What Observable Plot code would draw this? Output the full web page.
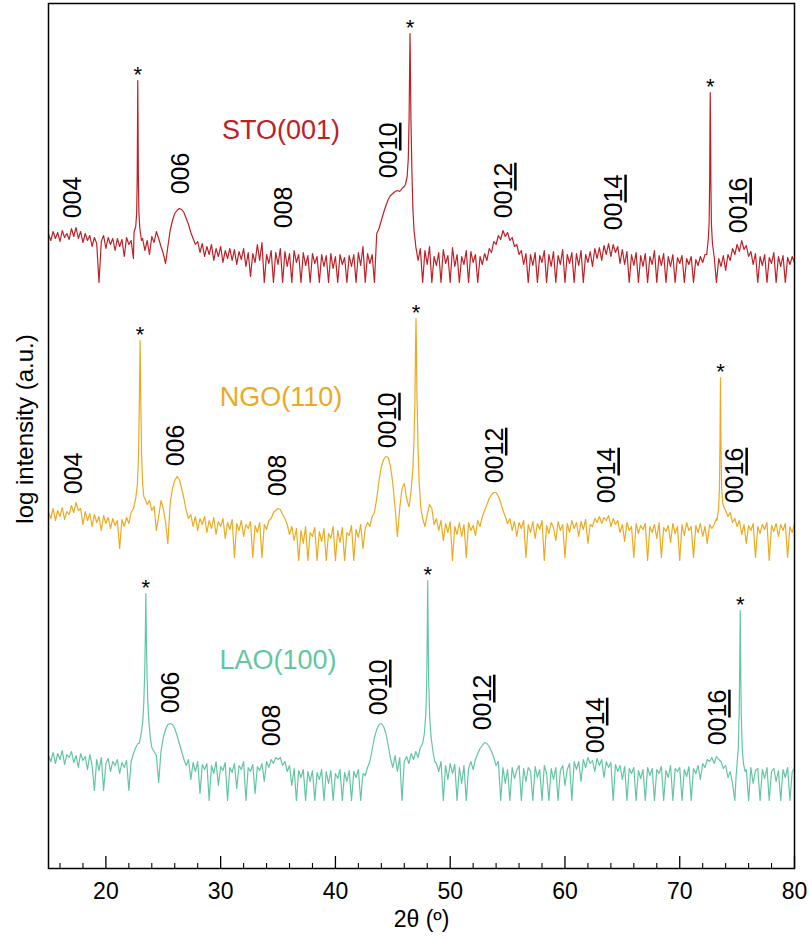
<!DOCTYPE html>
<html><head><meta charset="utf-8">
<script src="https://cdn.jsdelivr.net/npm/d3@7"></script>
<script src="https://cdn.jsdelivr.net/npm/@observablehq/plot@0.6"></script>
<style>body{margin:0;background:#fff;} #chart svg{display:block;}</style>
</head><body><div id="chart"></div>
<script>
// scan grid: 2θ from 15° to 80° every 0.2°
const theta0 = 15, thetaStep = 0.2;

// log intensity (a.u.), relative to each trace's own offset
const sto = [
 34,28,37,30,36,27,38,31,35,29,
 40,32,41,30,37,26,35,28,33,22,
 31,25,-14,27,33,20,31,24,30,18,
 30,22,29,12,31,24,28,10,36,40,
 30,30,18,28,14,32,26,37,30,22,
 15,5,22,38,48,55,58,60,59,56,
 50,44,36,30,24,27,16,25,12,22,
 14,24,8,20,12,22,6,18,10,20,
 8,19,4,17,9,20,2,16,-8,15,
 6,24,8,26,-14,14,5,18,-14,16,
 4,20,-14,17,2,15,-14,18,6,14,
 -14,16,3,13,-14,15,5,12,-14,14,
 2,13,-14,15,0,12,-14,14,4,11,
 -14,13,2,14,-14,16,3,22,-14,15,
 5,14,-14,35,40,48,56,63,69,73,
 75,77,78,77,80,82,90,150,200,40,
 22,8,20,-14,18,4,22,-14,12,3,
 16,-14,19,5,13,-14,21,2,14,-14,
 12,4,18,-14,17,6,14,-14,12,4,
 15,8,20,16,27,24,33,29,38,32,
 36,28,31,22,24,14,18,4,15,-14,
 14,3,16,-14,13,6,18,-14,14,2,
 17,-14,13,4,19,-14,14,5,16,-14,
 15,3,18,-14,14,6,17,2,20,10,
 21,8,23,14,25,12,24,16,22,5,
 19,4,17,-14,14,3,16,-14,13,2,
 15,-14,12,4,18,-14,13,3,15,-14,
 12,2,14,-14,11,5,13,-14,10,4,
 12,-14,9,3,12,6,14,20,100,60,
 12,-14,10,2,13,-2,14,8,20,14,
 24,17,28,19,23,12,17,4,15,-14,
 12,3,14,-14,11,5,16,-14,12,2,
 13,-14,11,4,12,6
];
const ngo = [
 26,20,30,18,28,22,31,19,27,24,
 33,26,36,28,30,14,27,18,25,12,
 24,16,22,8,23,15,21,10,20,13,
 18,-10,19,12,21,15,26,30,40,80,
 140,60,40,34,38,28,32,8,22,38,
 30,16,-5,35,50,58,62,59,50,40,
 28,20,24,12,22,8,20,14,22,6,
 18,10,21,4,17,12,20,0,16,9,
 19,-19,15,8,18,2,14,10,17,-19,
 13,6,16,-19,14,9,18,20,26,28,
 30,29,24,20,14,4,12,-2,10,-22,
 8,-5,12,-22,6,2,11,-22,7,-3,
 10,-22,5,0,12,-22,8,-4,11,-22,
 6,3,13,-22,9,1,14,-10,10,16,
 12,22,26,40,58,72,79,82,81,72,
 55,30,2,30,50,55,40,32,48,70,
 220,150,60,20,12,24,34,30,14,20,
 8,18,-2,15,6,17,-22,12,4,16,
 2,14,-19,16,8,13,3,18,12,22,
 28,34,40,44,46,46,42,36,28,22,
 15,20,8,17,2,16,10,18,-19,14,
 6,17,0,15,9,18,-22,13,5,16,
 11,-2,17,8,14,-19,15,6,18,10,
 16,2,17,9,19,-5,14,12,20,16,
 22,15,21,18,23,12,20,14,18,6,
 14,-3,16,8,12,-19,15,5,13,9,
 15,-22,12,6,14,0,16,-19,11,7,
 13,-4,15,5,12,-22,14,3,16,8,
 12,-19,13,6,15,2,12,-5,14,10,
 14,20,60,100,30,28,22,26,16,20,
 12,18,4,14,-5,13,8,15,-19,12,
 5,14,9,16,-22,13,7,15,2,14,
 8,15,-19,12,6,14
];
const lao = [
 18,12,21,10,20,14,23,9,19,16,
 22,11,18,6,20,13,17,4,19,8,
 -17,14,3,16,-17,10,15,2,12,8,
 14,0,11,6,13,-17,12,20,26,30,
 38,70,140,100,50,26,22,18,-9,22,
 36,44,49,50,49,45,38,30,22,14,
 8,14,-6,11,2,12,-20,9,4,10,
 -27,8,0,12,-12,7,3,11,-27,6,
 1,10,-15,8,4,12,-27,6,2,9,
 -20,7,3,10,-8,12,6,14,10,16,
 14,16,8,12,2,8,-12,5,-27,3,
 -4,4,-27,2,-8,3,-27,1,-6,4,
 -27,2,-10,3,-27,0,-5,4,-27,1,
 -8,3,-27,2,-4,4,-27,0,-2,6,
 12,24,36,44,49,50,47,40,28,15,
 6,18,2,16,-27,12,17,10,20,14,
 22,16,26,30,60,150,100,30,14,10,
 2,12,-27,8,-6,10,0,9,-27,6,
 -10,8,-27,5,12,4,14,20,25,28,
 31,30,27,22,16,8,12,-27,6,-10,
 4,-27,6,-5,3,8,-27,5,-8,6,
 2,-27,7,-4,4,-27,8,0,-27,5,
 -6,6,-27,3,8,-12,4,10,-27,12,
 4,12,-8,14,6,16,10,13,2,15,
 8,14,-4,12,6,11,-27,9,2,8,
 -6,7,-27,5,0,6,-27,3,-5,4,
 -27,6,-2,5,-27,4,0,7,-27,3,
 -4,8,-27,5,2,6,-27,4,-3,7,
 -27,5,0,8,-6,10,6,14,12,16,
 10,17,14,12,5,8,-4,2,-10,-27,
 20,120,40,8,4,-27,6,-10,3,5,
 -27,4,-5,6,-27,2,5,-8,3,-27,
 4,-4,6,-27,2,5
];

// finely sampled substrate peaks (2θ, log intensity)
const stoPeaks = [
 [[22.45,36],[22.6,42],[22.68,55],[22.73,90],[22.76,150],[22.78,188],[22.8,150],[22.83,90],[22.88,55],[22.96,40],[23.1,28]],
 [[46.1,84],[46.25,92],[46.35,110],[46.42,150],[46.47,205],[46.5,235],[46.53,205],[46.58,150],[46.66,100],[46.75,60],[46.85,38],[46.95,28]],
 [[72.35,14],[72.48,28],[72.56,45],[72.61,90],[72.64,150],[72.66,176],[72.68,150],[72.71,90],[72.76,45],[72.85,25],[73.0,12]]
];
const ngoPeaks = [
 [[22.4,30],[22.6,40],[22.75,55],[22.85,85],[22.92,140],[22.98,198],[23.04,140],[23.11,85],[23.2,55],[23.3,42]],
 [[46.45,34],[46.6,48],[46.75,70],[46.85,100],[46.93,140],[46.98,190],[47.02,220],[47.06,190],[47.11,140],[47.2,90],[47.3,55],[47.45,30],[47.6,20]],
 [[73.25,18],[73.38,30],[73.46,50],[73.51,100],[73.55,161],[73.59,100],[73.65,50],[73.75,35],[73.9,30]]
];
const laoPeaks = [
 [[22.9,30],[23.05,38],[23.2,50],[23.3,70],[23.38,100],[23.44,140],[23.48,180],[23.52,140],[23.58,100],[23.66,70],[23.76,50],[23.88,35],[24.0,26]],
 [[47.6,30],[47.75,40],[47.88,60],[47.95,90],[48.0,140],[48.04,193],[48.08,140],[48.13,90],[48.22,55],[48.35,35],[48.5,22],[48.65,12]],
 [[74.9,-5],[75.0,10],[75.1,25],[75.18,60],[75.23,110],[75.27,163],[75.31,110],[75.36,60],[75.45,25],[75.55,10],[75.7,2]]
];

const seriesNames = ["STO(001)", "NGO(110)", "LAO(100)"];
const seriesOffsets = [600, 330, 95];
const seriesColors = ["#BD2127", "#EBAA1F", "#62C6A1"];
const seriesTitleTheta = [35.25, 35.25, 35.0];
const seriesTitleY = [138, 141, 113];

// (00l) reflection labels
const hklSTO = ["004","006","008","0010","0012","0014","0016"];
const hklSTOTheta = [17.12, 26.53, 35.51, 44.67, 54.7, 64.3, 75.2];
const hklSTOY = [71, 95, 61, 118, 78, 66, 63];
const hklNGO = ["004","006","008","0010","0012","0014","0016"];
const hklNGOTheta = [17.2, 26.1, 35.0, 44.6, 53.9, 63.7, 74.85];
const hklNGOY = [65, 93, 63, 118, 83, 63, 63];
const hklLAO = ["006","008","0010","0012","0014","0016"];
const hklLAOTheta = [25.66, 34.47, 43.8, 52.86, 62.7, 73.35];
const hklLAOY = [81, 48, 86, 71, 48, 56];

const xTickLabels = [20, 30, 40, 50, 60, 70, 80];
const xMajorTicks = [20, 30, 40, 50, 60, 70, 80];
const xMinorTicks = [16,18,22,24,26,28,32,34,36,38,42,44,46,48,52,54,56,58,62,64,66,68,72,74,76,78];

function scan(values, peaks, offset, name) {
  let pts = values.map((v, i) => ({x: +(theta0 + i * thetaStep).toFixed(2), y: v}));
  for (const p of peaks) {
    const lo = p[0][0], hi = p[p.length - 1][0];
    pts = pts.filter(d => d.x < lo || d.x > hi).concat(p.map(([x, y]) => ({x, y})));
  }
  return pts.sort((a, b) => a.x - b.x).map(d => ({x: d.x, y: d.y + offset, name}));
}

const traces = [
  scan(sto, stoPeaks, seriesOffsets[0], seriesNames[0]),
  scan(ngo, ngoPeaks, seriesOffsets[1], seriesNames[1]),
  scan(lao, laoPeaks, seriesOffsets[2], seriesNames[2])
];
const stars = [stoPeaks, ngoPeaks, laoPeaks].flatMap((pk, s) =>
  pk.map(p => { const m = p.reduce((a, b) => b[1] > a[1] ? b : a); return {x: m[0], y: m[1] + seriesOffsets[s]}; }));
const hkl = [[hklSTO, hklSTOTheta, hklSTOY], [hklNGO, hklNGOTheta, hklNGOY], [hklLAO, hklLAOTheta, hklLAOY]]
  .flatMap(([t, th, yy], s) => t.map((label, i) => ({label, x: th[i], y: yy[i] + seriesOffsets[s]})));

const font = "'Liberation Sans', Arial, Helvetica, sans-serif";
const chart = Plot.plot({
  width: 809, height: 938,
  marginLeft: 48, marginRight: 15, marginTop: 3, marginBottom: 70,
  style: {fontFamily: font, background: "white", color: "black"},
  x: {domain: [15, 80]},
  y: {domain: [0, 865], axis: null},
  marks: [
    ...traces.map((t, s) => Plot.line(t, {x: "x", y: "y", stroke: seriesColors[s], strokeWidth: 1.2})),
    Plot.text(stars, {x: "x", y: "y", text: () => "*", dy: -6, fontSize: 22, fill: "black"}),
    Plot.text(seriesNames, {x: (d, i) => seriesTitleTheta[i], y: (d, i) => seriesTitleY[i] + seriesOffsets[i], text: d => d, fill: (d, i) => seriesColors[i], fontSize: 27}),
    Plot.text(hkl, {x: "x", y: "y", text: "label", rotate: -90, fontSize: 25, fill: "black"}),
    Plot.ruleX(xMajorTicks, {x: d => d, insetTop: 853, stroke: "black", strokeWidth: 1.3}),
    Plot.ruleX(xMinorTicks, {x: d => d, insetTop: 860, stroke: "black", strokeWidth: 1.1}),
    Plot.axisX({ticks: xTickLabels, tickSize: 0, tickPadding: 14, fontSize: 23, label: null}),
    Plot.text(["2θ (º)"], {text: d => d, frameAnchor: "bottom", textAnchor: "middle", dy: 58, fontSize: 23, fill: "black"}),
    Plot.text(["log intensity (a.u.)"], {text: d => d, frameAnchor: "left", textAnchor: "middle", rotate: -90, dx: -23, dy: -7, fontSize: 24, fill: "black"}),
    Plot.frame({stroke: "black", strokeWidth: 1.5})
  ]
});
d3.select(chart).selectAll("text").each(function() {
  const t = this.textContent;
  if (/^00\d\d$/.test(t)) {
    this.textContent = "";
    d3.select(this).append("tspan").text(t.slice(0, 2));
    d3.select(this).append("tspan").attr("text-decoration", "underline").text(t.slice(2));
  }
});
document.getElementById("chart").appendChild(chart);
</script>
</body></html>
